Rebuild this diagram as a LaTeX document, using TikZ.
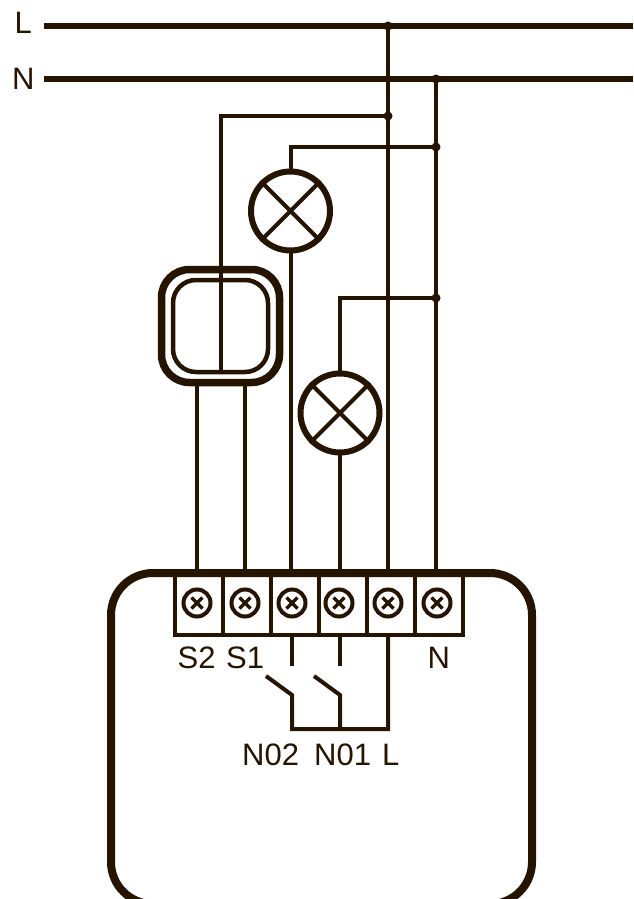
\documentclass[tikz,border=0pt]{standalone}
\usepackage{fontspec}
\setmainfont{Liberation Sans}
\definecolor{ink}{HTML}{241400}
\tikzset{
  wire/.style={draw=ink,line width=4pt,line cap=butt,line join=miter},
  bus/.style={draw=ink,line width=6pt},
  dot/.style={circle,fill=ink,inner sep=0pt,minimum size=9pt},
  lamp/.style={circle,draw=ink,line width=6pt,fill=white,inner sep=0pt,minimum size=79pt},
  terminal/.style={rectangle,draw=ink,line width=4pt,inner sep=0pt,minimum width=48pt,minimum height=60pt,anchor=north west},
  screw/.style={circle,draw=ink,line width=4pt,inner sep=0pt,minimum size=27pt},
  lbl/.style={text=ink,font=\fontsize{31pt}{32pt}\selectfont,inner sep=0pt,anchor=base west},
}
\begin{document}
\begin{tikzpicture}[x=1pt,y=-1pt]
\useasboundingbox (0,0) rectangle (633,899);
\clip (0,0) rectangle (633,899);
% coordinates
\coordinate (Lstart) at (44,26); \coordinate (Lend) at (633,26);
\coordinate (Nstart) at (44,79); \coordinate (Nend) at (633,79);
\node[dot] (jL) at (388,26) {};
\node[dot] (jN) at (436,79) {};
\node[dot] (jSw) at (388,116) {};
\node[dot] (jLa1) at (436,147) {};
\node[dot] (jLa2) at (436,298) {};
% device outline
\draw[draw=ink,line width=8pt,rounded corners=42pt] (111,573) rectangle (532,904);
% terminals
\foreach \n/\x in {a/173,b/221,c/269,d/317,e/365,f/412.5}{
  \node[terminal] (t\n) at (\x,573) {};
}
\foreach \n/\x in {a/197,b/245,c/292,d/339,e/388,f/437}{
  \node[screw] (s\n) at (\x,603) {};
  \draw[ink,line width=3.4pt] ([shift={(-5.5,-5.5)}]s\n.center) -- ([shift={(5.5,5.5)}]s\n.center)
     ([shift={(-5.5,5.5)}]s\n.center) -- ([shift={(5.5,-5.5)}]s\n.center);
}
% buses
\draw[bus] (Lstart) -- (Lend);
\draw[bus] (Nstart) -- (Nend);
% lamps
\node[lamp] (la1) at (290.5,211) {};
\node[lamp] (la2) at (340,413) {};
% switch
\node[draw=ink,line width=7.5pt,rounded corners=28pt,minimum width=118pt,minimum height=113pt,inner sep=0pt] (swo) at (220.5,326) {};
\node[draw=ink,line width=4.5pt,rounded corners=23pt,minimum width=95pt,minimum height=92pt,inner sep=0pt] (swi) at (220.5,326) {};
\draw[wire] (swo.north) -- (swi.south);
% lamp crosses
\foreach \l in {la1,la2}{
  \draw[ink,line width=4pt] (\l.45) -- (\l.225) (\l.135) -- (\l.315);
}
% wires
\draw[wire] (jL.center) -- (388,573);
\draw[wire] (jN.center) -- (436,573);
\draw[wire] (jSw.center) -| (swo.north);
\draw[wire] (jLa1.center) -| ([yshift=-2pt]la1.north);
\draw[wire] (jLa2.center) -| ([yshift=-2pt]la2.north);
\draw[wire] ([yshift=2pt]la1.south) -- (290.5,573);
\draw[wire] ([yshift=2pt]la2.south) -- (340,573);
\draw[wire] (197,386) -- (197,573);
\draw[wire] (245,386) -- (245,573);
% inner contacts
\coordinate (c1) at (292,666); \coordinate (c2) at (340,666);
\coordinate (b1) at (292,729); \coordinate (b2) at (340,729); \coordinate (b3) at (388,729);
\draw[wire] (tc.south -| c1) -- (c1);
\draw[wire] (td.south -| c2) -- (c2);
\draw[wire] (te.south -| b3) -- (b3) -- (b1) -- (292,695) -- (266,676);
\draw[wire] (b2) -- (340,695) -- (314,676);
% labels
\node[lbl] (tL) at (14.5,34) {L};
\node[lbl] (tN) at (12,89) {N};
\node[lbl] (tS2) at (177.5,668) {S2};
\node[lbl] (tS1) at (226,668) {S1};
\node[lbl] (tNN) at (427.5,668) {N};
\node[lbl] (tN2) at (242,765) {N02};
\node[lbl] (tN1) at (314,765) {N01};
\node[lbl] (tLL) at (382,765) {L};
\end{tikzpicture}
\end{document}
